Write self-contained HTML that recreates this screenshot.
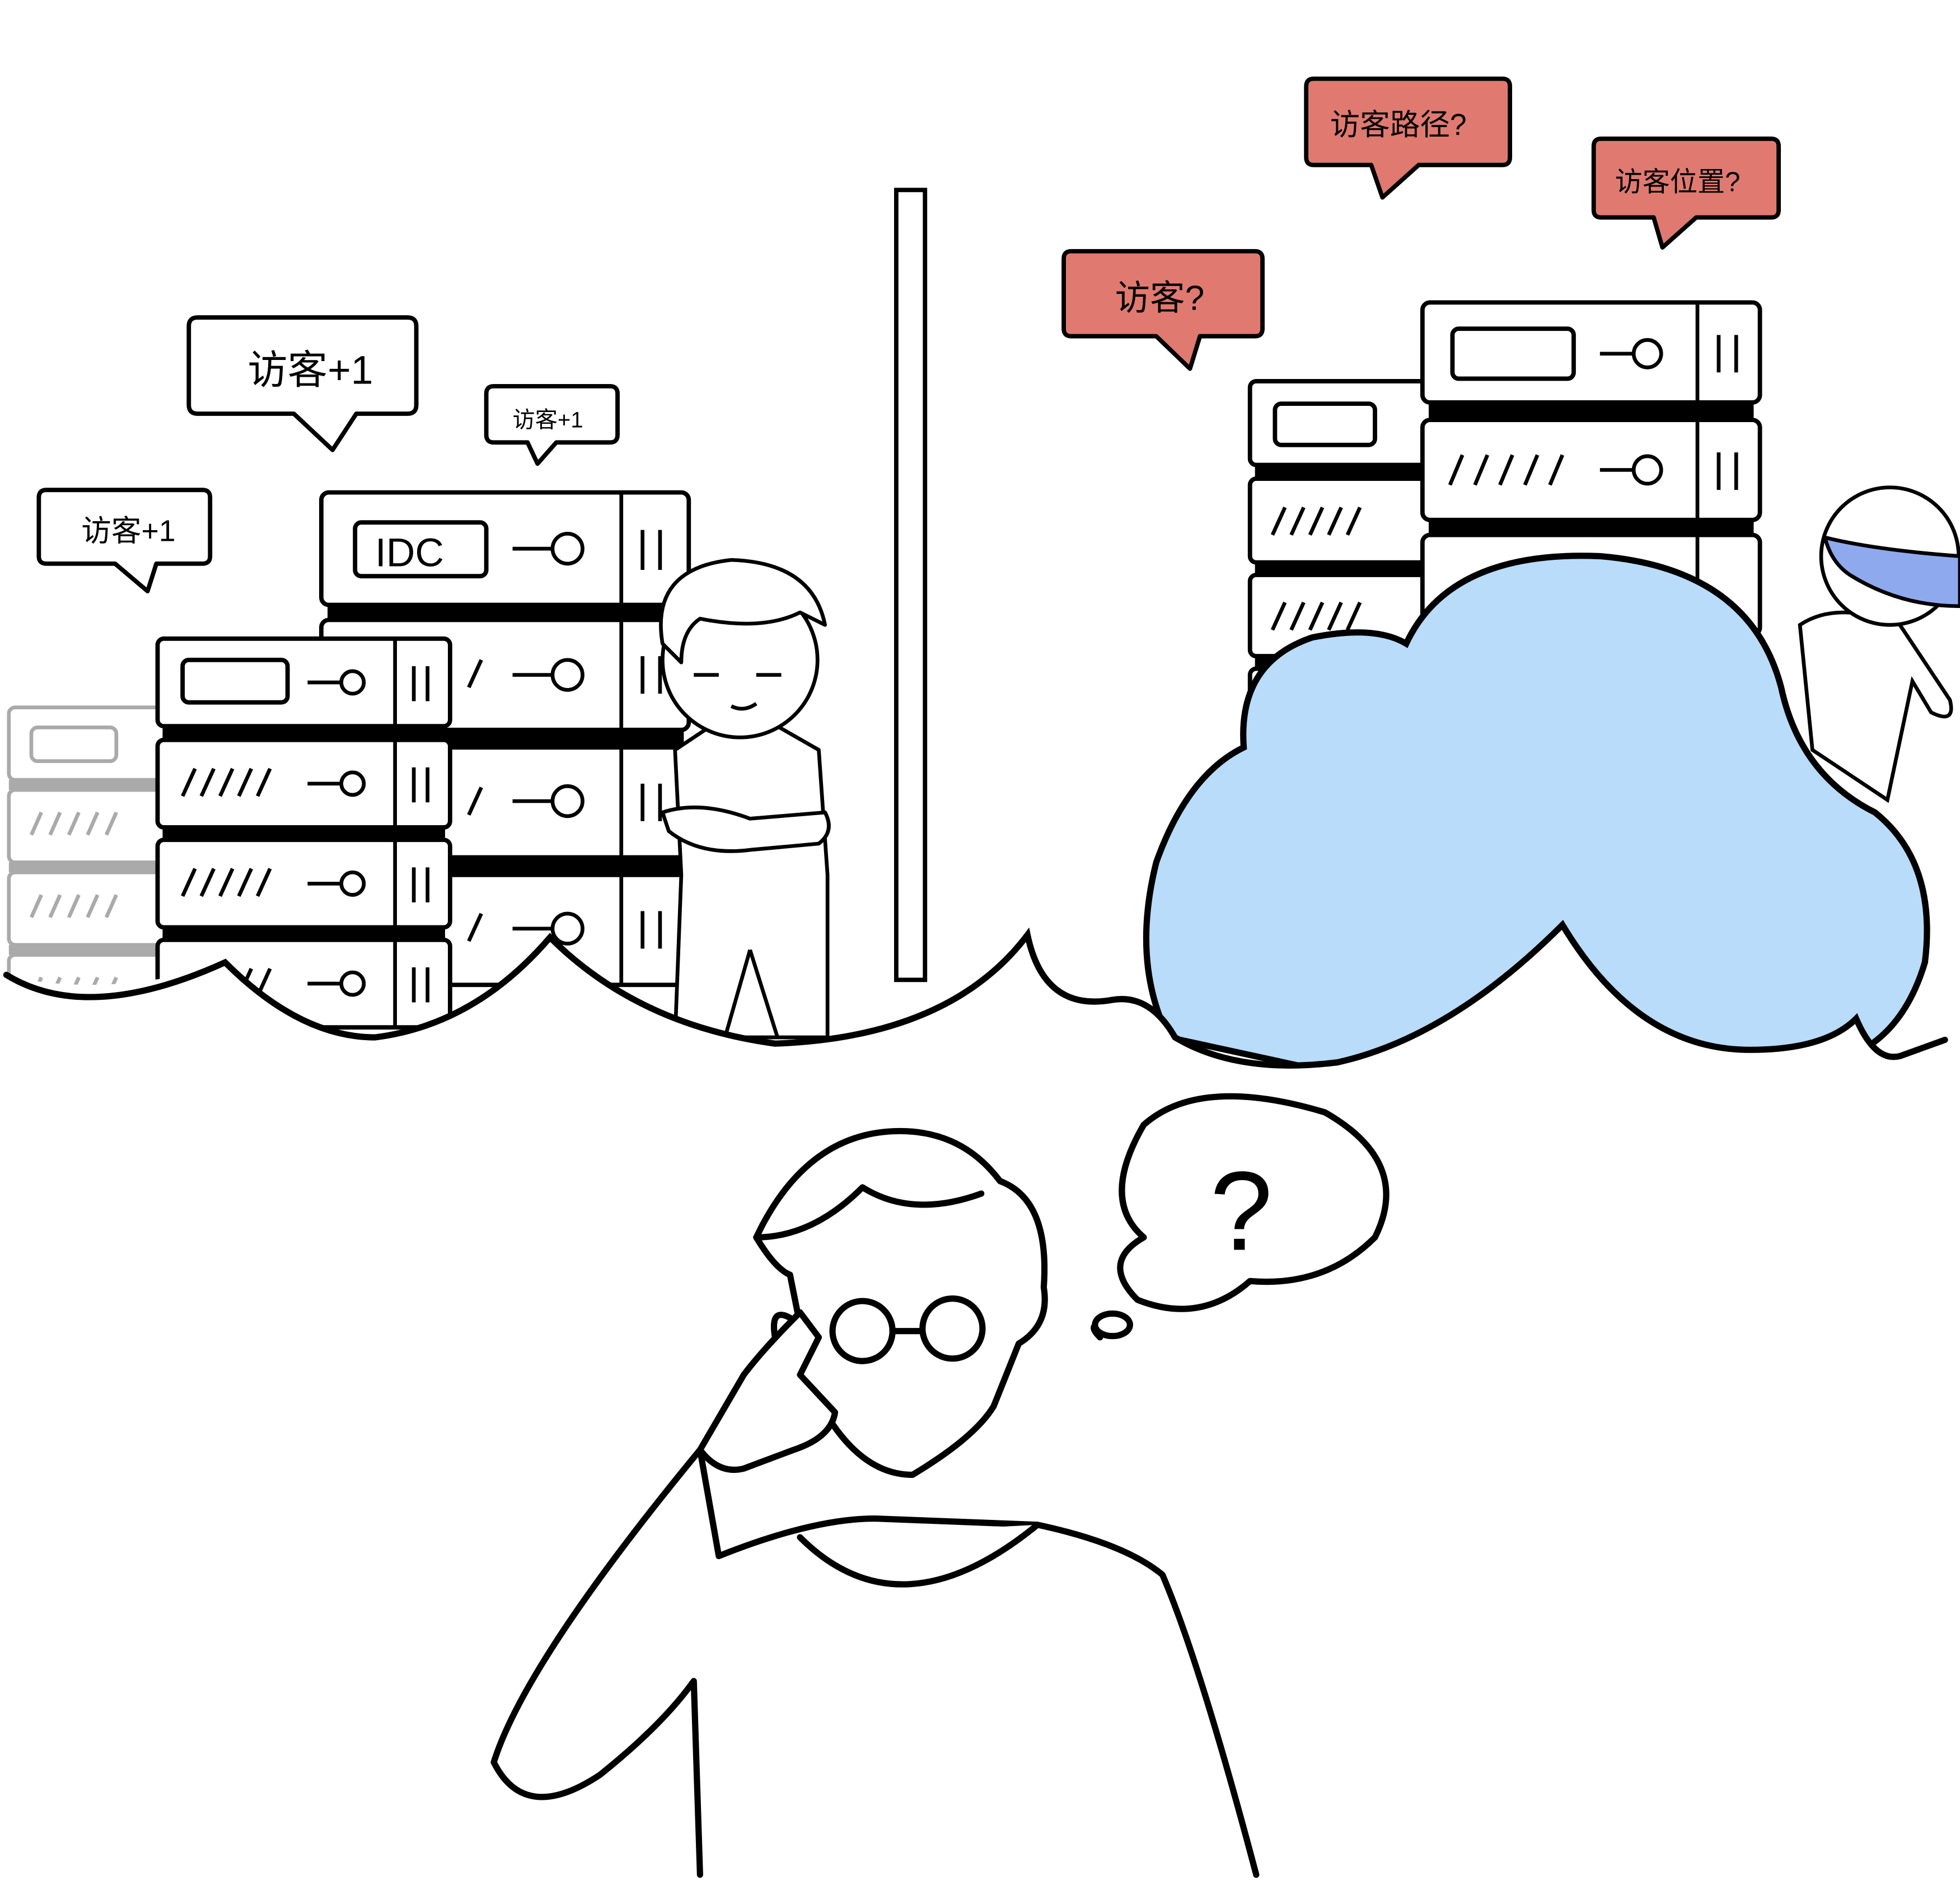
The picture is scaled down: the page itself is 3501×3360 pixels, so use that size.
<!DOCTYPE html>
<html><head><meta charset="utf-8"><style>
html,body{margin:0;padding:0;background:#fff;}
svg{display:block;}
text{font-family:"Liberation Sans","Noto Sans CJK SC",sans-serif;}
</style></head><body>
<svg width="3501" height="3360" viewBox="0 0 1568 1505" xmlns="http://www.w3.org/2000/svg">
<defs>
<g id="unitA">
<rect x="0" y="0" width="234" height="70" rx="5" fill="#fff" stroke="#000" stroke-width="3.5"/>
<line x1="190" y1="0" x2="190" y2="70" stroke="#000" stroke-width="3"/>
<line x1="205" y1="22" x2="205" y2="50" stroke="#000" stroke-width="3"/>
<line x1="216" y1="22" x2="216" y2="50" stroke="#000" stroke-width="3"/>
<line x1="120" y1="35" x2="148" y2="35" stroke="#000" stroke-width="3"/>
<circle cx="156" cy="35" r="9" fill="#fff" stroke="#000" stroke-width="3"/>
</g>
</defs>
<rect width="1568" height="1505" fill="#fff"/>

<!-- gray rack -->
<g stroke="#aaa" stroke-width="3" fill="#fff">
<rect x="7" y="566" width="125" height="58" rx="5"/>
<rect x="25" y="582" width="68" height="27" rx="5"/>
<rect x="7" y="632" width="125" height="58" rx="5"/>
<rect x="7" y="698" width="125" height="58" rx="5"/>
<rect x="7" y="764" width="125" height="58" rx="5"/>
<path d="M25 668l8-18M40 668l8-18M55 668l8-18M70 668l8-18M85 668l8-18M25 734l8-18M40 734l8-18M55 734l8-18M70 734l8-18M85 734l8-18M25 800l8-18M40 800l8-18M55 800l8-18M70 800l8-18M85 800l8-18"/>
</g>
<rect x="7" y="624" width="120" height="8" fill="#aaa"/><rect x="7" y="690" width="120" height="8" fill="#aaa"/><rect x="7" y="756" width="120" height="8" fill="#aaa"/>

<!-- big left rack -->
<g>
<rect x="257" y="394" width="294" height="90" rx="6" fill="#fff" stroke="#000" stroke-width="3.5"/>
<rect x="284" y="418" width="105" height="43" rx="5" fill="#fff" stroke="#000" stroke-width="3.5"/>
<text x="300" y="453" font-size="32" font-family="Liberation Serif,serif">IDC</text>
<line x1="497" y1="394" x2="497" y2="484" stroke="#000" stroke-width="3"/>
<line x1="514" y1="424" x2="514" y2="456" stroke="#000" stroke-width="3"/><line x1="528" y1="424" x2="528" y2="456" stroke="#000" stroke-width="3"/>
<line x1="410" y1="439" x2="442" y2="439" stroke="#000" stroke-width="3"/><circle cx="454" cy="439" r="12" fill="#fff" stroke="#000" stroke-width="3"/>
<rect x="262" y="484" width="285" height="12" fill="#000"/>
<rect x="257" y="496" width="294" height="88" rx="6" fill="#fff" stroke="#000" stroke-width="3.5"/>
<rect x="262" y="584" width="285" height="14" fill="#000"/>
<rect x="257" y="598" width="294" height="88" rx="6" fill="#fff" stroke="#000" stroke-width="3.5"/>
<rect x="262" y="686" width="285" height="14" fill="#000"/>
<rect x="257" y="700" width="294" height="88" rx="6" fill="#fff" stroke="#000" stroke-width="3.5"/>
<g stroke="#000" stroke-width="3"><line x1="497" y1="496" x2="497" y2="788"/>
<line x1="514" y1="525" x2="514" y2="555"/><line x1="528" y1="525" x2="528" y2="555"/>
<line x1="514" y1="627" x2="514" y2="657"/><line x1="528" y1="627" x2="528" y2="657"/>
<line x1="514" y1="729" x2="514" y2="759"/><line x1="528" y1="729" x2="528" y2="759"/>
<line x1="410" y1="540" x2="442" y2="540"/><line x1="410" y1="641" x2="442" y2="641"/><line x1="410" y1="743" x2="442" y2="743"/>
<path d="M375 550l10-22M375 652l10-22M375 753l10-22"/></g>
<circle cx="454" cy="540" r="12" fill="#fff" stroke="#000" stroke-width="3"/>
<circle cx="454" cy="641" r="12" fill="#fff" stroke="#000" stroke-width="3"/>
<circle cx="454" cy="743" r="12" fill="#fff" stroke="#000" stroke-width="3"/>
</g>

<!-- front left rack -->
<g transform="translate(126,511)"><use href="#unitA"/>
<rect x="20" y="17" width="84" height="34" rx="5" fill="#fff" stroke="#000" stroke-width="3.5"/></g>
<rect x="130" y="581" width="226" height="11" fill="#000"/>
<g transform="translate(126,592)"><use href="#unitA"/><path d="M20 45l10-22M35 45l10-22M50 45l10-22M65 45l10-22M80 45l10-22" stroke="#000" stroke-width="3"/></g>
<rect x="130" y="661" width="226" height="11" fill="#000"/>
<g transform="translate(126,672)"><use href="#unitA"/><path d="M20 45l10-22M35 45l10-22M50 45l10-22M65 45l10-22M80 45l10-22" stroke="#000" stroke-width="3"/></g>
<rect x="130" y="741" width="226" height="11" fill="#000"/>
<g transform="translate(126,752)"><use href="#unitA"/><path d="M65 45l10-22M80 45l10-22" stroke="#000" stroke-width="3"/></g>

<!-- boy left (simplified) -->
<g fill="#fff" stroke="#000" stroke-width="3" stroke-linejoin="round">
<path d="M540 830 L545 700 L540 600 L570 580 L620 580 L655 600 L662 700 L662 830 Z"/>
<path d="M530 650 Q560 640 600 655 L660 650 Q668 665 655 675 L600 680 Q560 685 535 665 Z"/>
<path d="M600 760 L580 830 M600 760 L622 830"/>
<ellipse cx="592" cy="528" rx="62" ry="62"/>
<path d="M530 515 Q520 455 585 448 Q650 450 660 500 Q650 495 640 490 Q610 505 560 495 Q545 505 545 530 Z" fill="#fff"/>
<path d="M555 540 h20 M605 540 h20 M585 565 q10 5 20 -2"/>
</g>

<!-- vertical bar -->
<rect x="717" y="152" width="23" height="632" fill="#fff" stroke="#000" stroke-width="3.5"/>

<!-- right back racks -->
<g fill="#fff" stroke="#000" stroke-width="3.5">
<rect x="1000" y="305" width="150" height="67" rx="5"/>
<rect x="1020" y="323" width="80" height="33" rx="5"/>
<rect x="1000" y="383" width="150" height="67" rx="5"/>
<rect x="1000" y="460" width="150" height="65" rx="5"/>
<rect x="1000" y="535" width="150" height="60" rx="5"/>
</g>
<rect x="1004" y="372" width="140" height="11" fill="#000"/><rect x="1004" y="450" width="140" height="10" fill="#000"/><rect x="1004" y="525" width="140" height="10" fill="#000"/>
<path d="M1018 428l10-22M1033 428l10-22M1048 428l10-22M1063 428l10-22M1078 428l10-22M1018 504l10-22M1033 504l10-22M1048 504l10-22M1063 504l10-22M1078 504l10-22" stroke="#000" stroke-width="3"/>
<g fill="#fff" stroke="#000" stroke-width="3.5">
<rect x="1138" y="242" width="270" height="80" rx="6"/>
<rect x="1162" y="263" width="97" height="40" rx="5"/>
<rect x="1138" y="336" width="270" height="80" rx="6"/>
<rect x="1138" y="428" width="270" height="80" rx="6"/>
</g>
<rect x="1143" y="322" width="260" height="14" fill="#000"/><rect x="1143" y="416" width="260" height="12" fill="#000"/>
<g stroke="#000" stroke-width="3"><line x1="1358" y1="242" x2="1358" y2="508"/>
<line x1="1375" y1="268" x2="1375" y2="298"/><line x1="1389" y1="268" x2="1389" y2="298"/>
<line x1="1375" y1="362" x2="1375" y2="392"/><line x1="1389" y1="362" x2="1389" y2="392"/>
<line x1="1280" y1="283" x2="1306" y2="283"/><line x1="1280" y1="376" x2="1306" y2="376"/>
<path d="M1160 388l10-24M1180 388l10-24M1200 388l10-24M1220 388l10-24M1240 388l10-24"/></g>
<circle cx="1318" cy="283" r="11" fill="#fff" stroke="#000" stroke-width="3"/>
<circle cx="1318" cy="376" r="11" fill="#fff" stroke="#000" stroke-width="3"/>

<!-- ninja -->
<g stroke="#000" stroke-width="3" fill="#fff">
<path d="M1440 500 Q1470 480 1520 500 L1560 560 Q1565 580 1545 570 L1530 545 L1510 640 L1450 600 Z"/>
<circle cx="1512" cy="445" r="55"/>
<path d="M1460 430 Q1500 440 1568 445 L1568 485 Q1520 485 1480 460 Q1465 450 1460 430 Z" fill="#8fa9ef"/>
</g>

<!-- cloud -->
<path d="M935 830 Q905 770 925 690 Q950 620 995 598 Q990 530 1050 510 Q1100 500 1125 515 Q1160 440 1280 445 Q1400 455 1425 550 Q1440 620 1500 650 Q1550 690 1540 770 Q1525 820 1490 840 Q1300 850 1050 855 Z" fill="#b8dcfa" stroke="#000" stroke-width="5"/>

<!-- ground wave fills & line -->
<path d="M0 780 Q90 800 180 770 Q240 830 300 830 Q380 820 440 750 Q510 820 620 835 Q760 830 822 748 Q835 810 890 800 Q920 795 940 830 Q990 860 1070 850 Q1160 830 1250 740 Q1310 840 1400 840 Q1460 840 1485 815 Q1500 850 1520 845 L1568 830 L1568 1505 L0 1505 Z" fill="#fff"/>
<path d="M5 780 Q70 820 180 770 Q240 830 300 830 Q380 820 440 750 Q510 820 620 835 Q760 830 822 748 Q835 810 890 800 Q920 795 940 830 Q990 860 1070 850 Q1160 830 1250 740 Q1310 840 1400 840 Q1460 840 1485 815 Q1500 850 1520 845 L1556 832" fill="none" stroke="#000" stroke-width="5" stroke-linecap="round"/>

<!-- white bubbles -->
<g fill="#fff" stroke="#000" stroke-width="3.5" stroke-linejoin="round">
<path d="M158 254 H326 Q333 254 333 261 V324 Q333 331 326 331 H285 L266 360 L235 331 H158 Q151 331 151 324 V261 Q151 254 158 254 Z"/>
<path d="M395 309 H488 Q494 309 494 315 V348 Q494 354 488 354 H445 L430 371 L422 354 H395 Q389 354 389 348 V315 Q389 309 395 309 Z"/>
<path d="M37 392 H162 Q168 392 168 398 V445 Q168 451 162 451 H125 L118 473 L92 451 H37 Q31 451 31 445 V398 Q31 392 37 392 Z"/>
</g>
<text x="198" y="307" font-size="32" font-family="Noto Sans CJK SC,sans-serif">访客+1</text>
<text x="410" y="342" font-size="18" font-family="Noto Sans CJK SC,sans-serif">访客+1</text>
<text x="65" y="433" font-size="24" font-family="Noto Sans CJK SC,sans-serif">访客+1</text>

<!-- red bubbles -->
<g fill="#e07a70" stroke="#000" stroke-width="3.5" stroke-linejoin="round">
<path d="M857 201 H1004 Q1010 201 1010 207 V263 Q1010 269 1004 269 H960 L952 295 L925 269 H857 Q851 269 851 263 V207 Q851 201 857 201 Z"/>
<path d="M1051 63 H1202 Q1208 63 1208 69 V126 Q1208 132 1202 132 H1135 L1106 158 L1097 132 H1051 Q1045 132 1045 126 V69 Q1045 63 1051 63 Z"/>
<path d="M1281 111 H1417 Q1423 111 1423 117 V168 Q1423 174 1417 174 H1357 L1330 198 L1323 174 H1281 Q1275 174 1275 168 V117 Q1275 111 1281 111 Z"/>
</g>
<text x="892" y="248" font-size="28" font-family="Noto Sans CJK SC,sans-serif">访客?</text>
<text x="1064" y="108" font-size="24" font-family="Noto Sans CJK SC,sans-serif">访客路径?</text>
<text x="1292" y="153" font-size="22" font-family="Noto Sans CJK SC,sans-serif">访客位置?</text>

<!-- thinking person -->
<g fill="#fff" stroke="#000" stroke-width="5" stroke-linejoin="round" stroke-linecap="round">
<path d="M560 1500 L555 1345 Q530 1380 480 1420 Q420 1460 395 1410 Q420 1330 560 1160 L575 1245 Q650 1215 700 1215 L830 1220 Q900 1235 930 1260 Q960 1330 1005 1500"/>
<path d="M640 1230 Q720 1310 830 1220"/>
<path d="M660 1130 Q690 1180 730 1180 Q780 1150 795 1125 L815 1075 Q840 1060 835 1030 Q840 960 800 945 Q770 905 720 905 Q650 905 610 980 L605 990 Q620 1015 632 1020 L640 1060 Q615 1040 620 1070 Z"/>
<path d="M605 990 Q650 990 690 950 Q730 975 785 955"/>
<path d="M640 1050 Q610 1080 595 1100 L560 1160 Q575 1180 595 1175 L635 1160 Q665 1150 668 1130 L640 1100 L655 1070 Z"/>
<circle cx="690" cy="1065" r="24"/><circle cx="762" cy="1063" r="24"/>
<path d="M714 1065 h24"/>
<path d="M880 1060 Q870 1060 880 1070"/>
<path d="M915 990 Q880 960 915 900 Q960 860 1060 890 Q1130 930 1100 990 Q1060 1030 1000 1025 Q960 1060 910 1040 Q880 1010 915 990 Z"/>
<ellipse cx="890" cy="1060" rx="14" ry="9"/>
</g>
<text x="968" y="1000" font-size="90" font-family="Liberation Sans,sans-serif">?</text>
</svg>
</body></html>
